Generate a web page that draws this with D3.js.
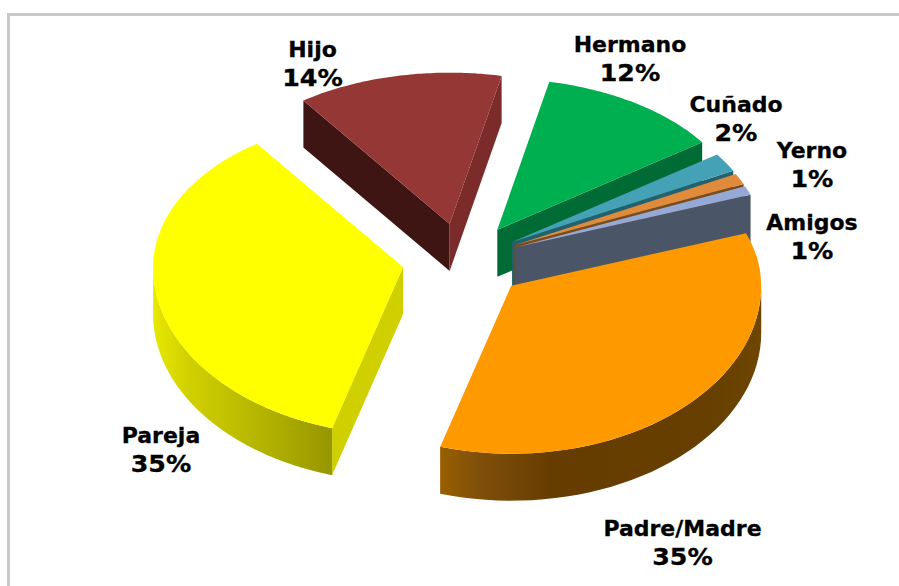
<!DOCTYPE html>
<html><head><meta charset="utf-8">
<script src="https://cdn.jsdelivr.net/npm/d3@7"></script>
<style>html,body{margin:0;padding:0;background:#fff}svg{display:block}</style></head>
<body><svg id="c" width="899" height="586"></svg>
<script>
const categories = ["Padre/Madre","Pareja","Hijo","Hermano","Cuñado","Yerno","Amigos"];
const values = [34.7,34.7,14.4,12.3,1.9,1.1,0.9];
const percentLabels = ["35%","35%","14%","12%","2%","1%","1%"];
const explosion = [1.1,1,1,0.97,0.92,0.92,0.92];
const topColors = ["#ff9900","#ffff00","#953735","#00b050","#44a1b6","#e08a3c","#95a9d6"];
const startWallColors = ["#a56600","#d0d000","#3f1514","#007a3c","#2a6b7a","#8a5520","#4a5568"];
const endWallColors = ["#a56600","#d0d000","#7a2b2a","#006b35","#24606e","#7a4a1a","#4a5568"];
const paintOrder = ["Hijo","Hermano","Cuñado","Yerno","Amigos","Padre/Madre","Pareja"];
const labelAnchors = [[682.5,536],[161,443],[312.5,57],[630,52],[736,112],[812,158],[812,230]];

const W=899,H=586;
const rx=250, ry=168, depth=47, cx=463, cy=260, explodeX=61, explodeY=37;
const startDeg=71.6;
const svg=d3.select("#c");
const defs=svg.append("defs");

// frame
svg.append("path").attr("d",d3.line()([[8.5,H],[8.5,14.5],[W,14.5]])).attr("fill","none").attr("stroke","#c8c8c8").attr("stroke-width",3);

const pie=d3.pie().sort(null).value(d=>d).startAngle(startDeg*Math.PI/180).endAngle((startDeg+360)*Math.PI/180);
const arcs=pie(values);

// foreshortening: the far side of the pie is drawn slightly smaller
function persp(a){const c=Math.cos(a);return c>0?1-0.1*c*c:1;}
function pt(a){const f=persp(a);return [rx*f*Math.sin(a),-ry*f*Math.cos(a)];}
function samples(a0,a1,n){return d3.range(0,n+1).map(i=>a0+(a1-a0)*i/n);}
function wallPath(a0,a1){
  const pts=samples(a0,a1,40).map(pt);
  const bot=pts.slice().reverse().map(p=>[p[0],p[1]+depth]);
  return d3.line()(pts.concat(bot))+"Z";
}
const radialLine=d3.lineRadial().angle(d=>d.a).radius(d=>d.r);
function topPath(a0,a1){
  return radialLine([{a:a0,r:0}].concat(samples(a0,a1,60).map(a=>({a:a,r:persp(a)}))))+"Z";
}
function gradient(id,x0,x1,stops){
  const g=defs.append("linearGradient").attr("id",id).attr("gradientUnits","userSpaceOnUse").attr("x1",x0).attr("x2",x1).attr("y1",0).attr("y2",0);
  stops.forEach(s=>g.append("stop").attr("offset",s[0]).attr("stop-color",s[1]));
  return "url(#"+id+")";
}
const wallFill={
 "Padre/Madre":gradient("gp",-72,250,[[0,"#9a5f00"],[0.12,"#80500a"],[0.35,"#663c00"],[0.85,"#664000"],[1,"#6e4600"]]),
 "Pareja":gradient("gy",-250,-70,[[0,"#e8e800"],[0.2,"#d0d000"],[0.6,"#b4b400"],[1,"#969600"]])
};
const TAU=2*Math.PI;
paintOrder.forEach(name=>{
  const i=categories.indexOf(name), d=arcs[i];
  const mid=(d.startAngle+d.endAngle)/2;
  const g=svg.append("g").attr("transform",`translate(${cx+explodeX*explosion[i]*Math.sin(mid)},${cy-explodeY*Math.cos(mid)})`);
  const radial=(a,col)=>{
    const p=pt(a);
    g.append("path").attr("d",d3.line()([[0,0],p,[p[0],p[1]+depth],[0,depth]])+"Z").attr("fill",col);
  };
  if(Math.sin(d.startAngle)<0) radial(d.startAngle,startWallColors[i]);
  if(Math.sin(d.endAngle)>0) radial(d.endAngle,endWallColors[i]);
  [[Math.PI/2,1.5*Math.PI],[Math.PI/2+TAU,1.5*Math.PI+TAU]].forEach(r=>{
    const a0=Math.max(d.startAngle,r[0]), a1=Math.min(d.endAngle,r[1]);
    if(a1>a0) g.append("path").attr("d",wallPath(a0,a1)).attr("fill",wallFill[name]||endWallColors[i]);
  });
  g.append("path").attr("d",topPath(d.startAngle,d.endAngle))
   .attr("transform",`scale(${rx},${ry})`).attr("fill",topColors[i]);
});

// labels
const lh=29;
function label(x,y,s,size,stretch){
  const t=svg.append("text").attr("x",x).attr("y",y).attr("text-anchor","middle")
    .attr("font-family","'DejaVu Sans'").attr("font-weight","bold").attr("font-size",size)
    .attr("fill","#000").attr("stroke","#000").attr("stroke-width",0.3).text(s);
  if(stretch!==1){
    const w=t.node().getComputedTextLength();
    t.attr("textLength",w*stretch).attr("lengthAdjust","spacingAndGlyphs");
  }
}
categories.forEach((c,i)=>{
  label(labelAnchors[i][0],labelAnchors[i][1],c,22,1);
  label(labelAnchors[i][0],labelAnchors[i][1]+lh,percentLabels[i],23,1.1);
});
</script></body></html>
